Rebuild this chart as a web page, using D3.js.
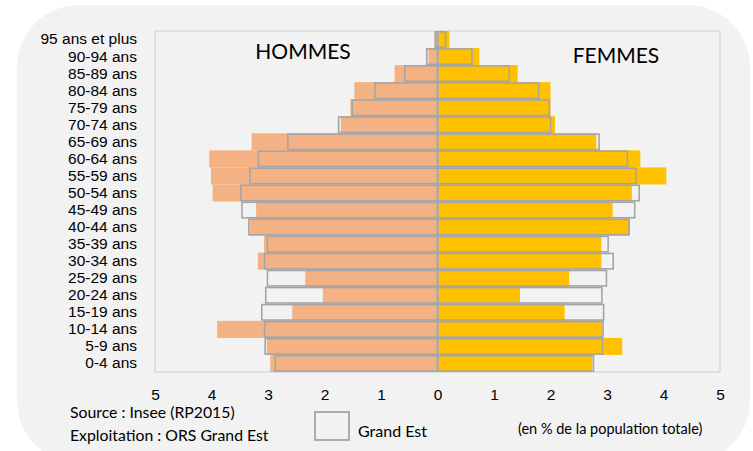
<!DOCTYPE html>
<meta charset="utf-8">
<style>
body {
  margin: 0;
  background-color: #ffffff;
}
svg {
  display: block;
  font-family: Lato, "Open Sans", sans-serif;
}
.axis path,
.axis line {
  display: none;
}
.axis text {
  font-size: 15.5px;
  fill: #000;
}
</style>
<body>
<script src="https://d3js.org/d3.v7.min.js"></script>
<script>
  // age groups, top to bottom
  var ageGroups = ["95 ans et plus", "90-94 ans", "85-89 ans", "80-84 ans", "75-79 ans",
    "70-74 ans", "65-69 ans", "60-64 ans", "55-59 ans", "50-54 ans", "45-49 ans",
    "40-44 ans", "35-39 ans", "30-34 ans", "25-29 ans", "20-24 ans", "15-19 ans",
    "10-14 ans", "5-9 ans", "0-4 ans"];

  // territory (% of total population)
  var hommes = [0.03, 0.16, 0.76, 1.47, 1.54, 1.71, 3.29, 4.04, 4.01, 3.98, 3.21,
    3.32, 3.07, 3.18, 2.34, 2.03, 2.57, 3.90, 3.02, 2.96];
  var femmes = [0.21, 0.74, 1.42, 2.00, 2.00, 2.08, 2.81, 3.59, 4.05, 3.44, 3.10,
    3.40, 2.90, 2.90, 2.33, 1.46, 2.25, 2.92, 3.27, 2.74];

  // Grand Est reference (outlines)
  var hommesGE = [0.04, 0.19, 0.58, 1.11, 1.51, 1.75, 2.65, 3.17, 3.32, 3.48, 3.46,
    3.34, 3.01, 3.06, 3.01, 3.04, 3.11, 3.06, 3.05, 2.87];
  var femmesGE = [0.14, 0.61, 1.27, 1.79, 1.98, 2.00, 2.86, 3.36, 3.51, 3.57, 3.49,
    3.39, 3.02, 3.11, 2.99, 2.91, 2.94, 2.93, 2.92, 2.76];

  var tickValues = [-5, -4, -3, -2, -1, 0, 1, 2, 3, 4, 5];

  var chartConfig = {
    width: 753,
    height: 451,
    plot: {left: 155, top: 31, right: 720, bottom: 372},
    colorH: "#f4b183",
    colorF: "#ffc000",
    outline: "#a5a5a5",
    panel: "#f2f2f2"
  };

  var p = chartConfig.plot;

  var svg = d3.select("body").append("svg")
      .attr("width", chartConfig.width)
      .attr("height", chartConfig.height);

  // rounded background panel
  svg.append("rect")
      .attr("x", 17).attr("y", 5)
      .attr("width", 733).attr("height", 458)
      .attr("rx", 62).attr("ry", 62)
      .attr("fill", chartConfig.panel);

  // plot area frame
  svg.append("rect")
      .attr("x", p.left).attr("y", p.top)
      .attr("width", p.right - p.left).attr("height", p.bottom - p.top)
      .attr("fill", chartConfig.panel)
      .attr("stroke", "#d4d4d4")
      .attr("stroke-width", 1.2);

  var x = d3.scaleLinear()
      .domain([-5, 5])
      .range([p.left, p.right]);

  var y = d3.scaleBand()
      .domain(ageGroups)
      .range([p.top, p.bottom])
      .padding(0);

  var rows = ageGroups.map(function(a, i) {
    return {age: a, h: hommes[i], f: femmes[i], hGE: hommesGE[i], fGE: femmesGE[i]};
  });

  // filled bars
  svg.selectAll(".barH")
      .data(rows)
    .enter().append("rect")
      .attr("class", "barH")
      .attr("x", function(d) { return x(-d.h); })
      .attr("y", function(d) { return y(d.age); })
      .attr("width", function(d) { return x(0) - x(-d.h); })
      .attr("height", y.bandwidth())
      .attr("fill", chartConfig.colorH);

  svg.selectAll(".barF")
      .data(rows)
    .enter().append("rect")
      .attr("class", "barF")
      .attr("x", x(0))
      .attr("y", function(d) { return y(d.age); })
      .attr("width", function(d) { return x(d.f) - x(0); })
      .attr("height", y.bandwidth())
      .attr("fill", chartConfig.colorF);

  // centre line
  svg.append("line")
      .attr("x1", x(0)).attr("x2", x(0))
      .attr("y1", p.top).attr("y2", p.bottom)
      .attr("stroke", "#c8c8c8")
      .attr("stroke-width", 2);

  // Grand Est outlines
  svg.selectAll(".geH")
      .data(rows)
    .enter().append("rect")
      .attr("class", "geH")
      .attr("x", function(d) { return x(-d.hGE); })
      .attr("y", function(d) { return y(d.age) + 0.8; })
      .attr("width", function(d) { return x(0) - x(-d.hGE); })
      .attr("height", y.bandwidth() - 1.6)
      .attr("fill", "none")
      .attr("stroke", chartConfig.outline)
      .attr("stroke-width", 1.6);

  svg.selectAll(".geF")
      .data(rows)
    .enter().append("rect")
      .attr("class", "geF")
      .attr("x", x(0))
      .attr("y", function(d) { return y(d.age) + 0.8; })
      .attr("width", function(d) { return x(d.fGE) - x(0); })
      .attr("height", y.bandwidth() - 1.6)
      .attr("fill", "none")
      .attr("stroke", chartConfig.outline)
      .attr("stroke-width", 1.6);

  // age labels
  svg.append("g")
      .attr("class", "axis")
      .attr("transform", "translate(" + (p.left - 11) + ",0)")
      .call(d3.axisLeft(y).tickSize(0).tickPadding(7));

  // value axis
  svg.append("g")
      .attr("class", "axis")
      .attr("transform", "translate(0," + (p.bottom + 14) + ")")
      .call(d3.axisBottom(x).tickValues(tickValues).tickSize(0)
        .tickFormat(function(d) { return Math.abs(d); }));

  // titles
  svg.append("text")
      .attr("x", 303).attr("y", 59)
      .attr("text-anchor", "middle")
      .style("font-size", "21px")
      .text("HOMMES");

  svg.append("text")
      .attr("x", 616).attr("y", 63)
      .attr("text-anchor", "middle")
      .style("font-size", "21px")
      .text("FEMMES");

  // notes
  svg.append("text")
      .attr("x", 70).attr("y", 418)
      .style("font-size", "15.8px")
      .text("Source : Insee (RP2015)");

  svg.append("text")
      .attr("x", 70).attr("y", 441)
      .style("font-size", "15.8px")
      .text("Exploitation : ORS Grand Est");

  // legend
  svg.append("rect")
      .attr("x", 315).attr("y", 412)
      .attr("width", 34).attr("height", 28)
      .attr("fill", "none")
      .attr("stroke", chartConfig.outline)
      .attr("stroke-width", 1.8);

  svg.append("text")
      .attr("x", 358).attr("y", 437)
      .style("font-size", "16px")
      .text("Grand Est");

  svg.append("text")
      .attr("x", 518).attr("y", 434)
      .style("font-size", "14.5px")
      .text("(en % de la population totale)");
</script>
</body>
